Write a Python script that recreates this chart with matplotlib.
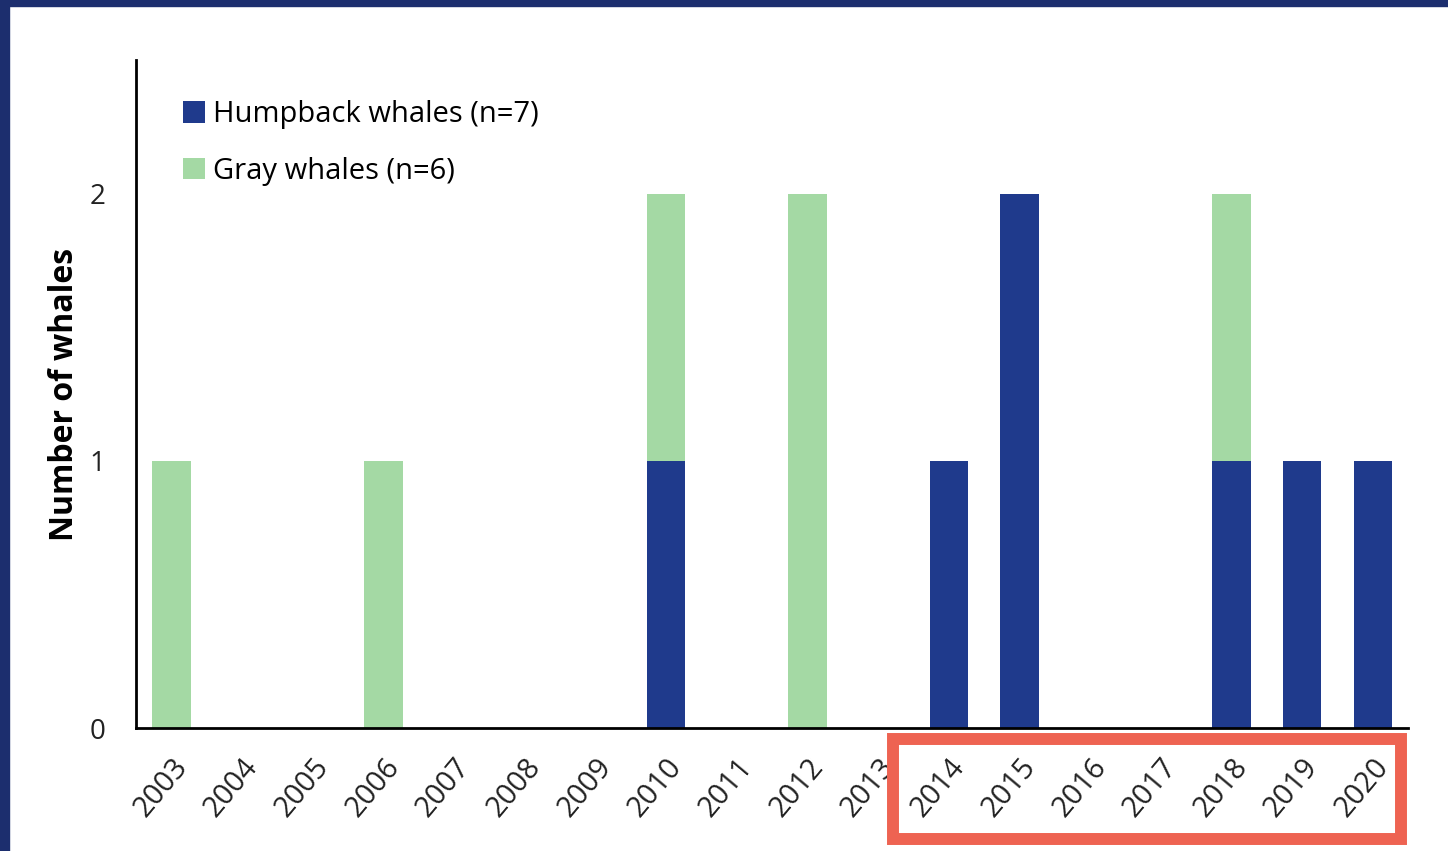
import matplotlib.pyplot as plt
from matplotlib.patches import Rectangle
import numpy as np

plt.rcParams['font.family'] = ['Open Sans', 'DejaVu Sans']

years = ['2003', '2004', '2005', '2006', '2007', '2008', '2009', '2010', '2011',
         '2012', '2013', '2014', '2015', '2016', '2017', '2018', '2019', '2020']
humpback = [0, 0, 0, 0, 0, 0, 0, 1, 0, 0, 0, 1, 2, 0, 0, 1, 1, 1]
gray = [1, 0, 0, 1, 0, 0, 0, 1, 0, 2, 0, 0, 0, 0, 0, 1, 0, 0]

navy = '#1f3a8c'
green = '#a4d9a4'

fig = plt.figure(figsize=(14.48, 8.51), dpi=100)
ax = fig.add_axes([0.094, 0.1445, 0.8785, 0.785])

x = np.arange(len(years))
ax.bar(x, humpback, width=0.54, color=navy, label='Humpback whales (n=7)')
ax.bar(x, gray, width=0.54, bottom=humpback, color=green, label='Gray whales (n=6)')

ax.set_xlim(-0.5, len(years) - 0.5)
ax.set_ylim(0, 2.5)
ax.set_yticks([0, 1, 2])
ax.set_xticks(x)
ax.set_xticklabels(years, rotation=50, ha='right', rotation_mode='anchor')
ax.tick_params(axis='both', length=0, colors='#222222')
ax.tick_params(axis='x', pad=18, labelsize=21)
ax.tick_params(axis='y', pad=22, labelsize=20)
for s in ['top', 'right']:
    ax.spines[s].set_visible(False)
ax.spines['left'].set_linewidth(2)
ax.spines['bottom'].set_linewidth(2)

ax.set_ylabel('Number of whales', fontsize=23, fontweight='bold', labelpad=6)

ax.legend(loc='upper left', bbox_to_anchor=(0.016, 0.979), frameon=False, fontsize=21,
          handlelength=0.75, handleheight=0.75, handletextpad=0.3, labelspacing=0.95)

# page frame and highlight box
fig.patches.append(Rectangle((0, 1 - 6 / 851), 1, 6 / 851, transform=fig.transFigure,
                             color='#1c2e6e', zorder=5))
fig.patches.append(Rectangle((0, 0), 9 / 1448, 1, transform=fig.transFigure,
                             color='#1c2e6e', zorder=5))
fig.patches.append(Rectangle((893 / 1448, 12 / 851), 508 / 1448, 100 / 851,
                             transform=fig.transFigure, fill=False,
                             edgecolor='#ee6352', linewidth=8.6, zorder=5))

fig.savefig('out.png', dpi=100)
